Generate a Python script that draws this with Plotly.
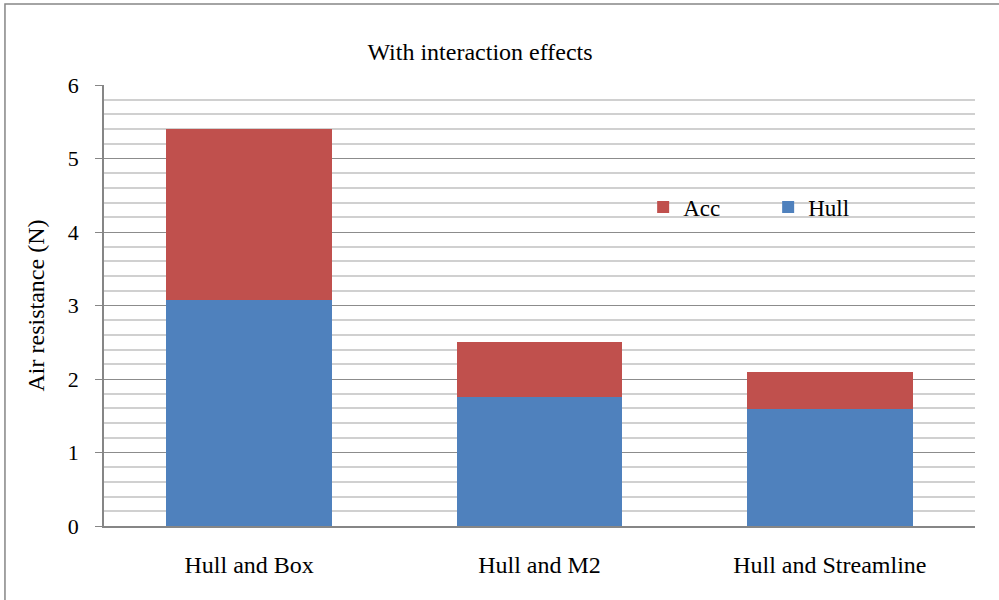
import plotly.graph_objects as go

categories = ["Hull and Box", "Hull and M2", "Hull and Streamline"]
hull = [3.07, 1.76, 1.59]
acc = [2.33, 0.74, 0.51]

serif = "Liberation Serif, Times New Roman, serif"

fig = go.Figure()

fig.add_trace(go.Bar(
    x=categories, y=hull, name="Hull",
    marker=dict(color="#4f81bd", line=dict(width=0)),
))
fig.add_trace(go.Bar(
    x=categories, y=acc, name="Acc",
    marker=dict(color="#c0504d", line=dict(width=0)),
))

# outer chart frame (only left and top edges visible in the crop)
fig.add_shape(type="rect", xref="paper", yref="paper",
              x0=-0.1137, x1=1.2, y0=-0.3, y1=1.1837,
              line=dict(color="#868686", width=1.5), layer="below")

fig.update_layout(
    width=999, height=600,
    barmode="stack",
    bargap=0.43,
    plot_bgcolor="white",
    paper_bgcolor="white",
    margin=dict(l=104, r=24, t=85, b=74),
    font=dict(family=serif, size=22, color="black"),
    title=dict(text="With interaction effects", x=480 / 999, xanchor="center",
               y=1 - 52 / 600, yanchor="middle",
               font=dict(family=serif, size=24, color="black")),
    legend=dict(orientation="h", traceorder="reversed",
                x=0.619, xanchor="left", y=0.723, yanchor="middle",
                entrywidth=80, entrywidthmode="pixels",
                font=dict(family=serif, size=23, color="black"),
                bgcolor="rgba(0,0,0,0)"),
    xaxis=dict(showline=True, linecolor="#868686", linewidth=1.5,
               ticks="", tickfont=dict(family=serif, size=24),
               ticklabelstandoff=16),
    yaxis=dict(range=[0, 6], dtick=1, showline=True, linecolor="#868686",
               linewidth=1.5, ticks="outside", ticklen=7, tickcolor="#868686",
               showgrid=True, gridcolor="#8c8c8c", gridwidth=1,
               zeroline=False, ticklabelstandoff=12,
               minor=dict(dtick=0.2, showgrid=True, gridcolor="#d0d0d0",
                          gridwidth=1.5, ticks=""),
               tickfont=dict(family=serif, size=22),
               title=dict(text="Air resistance (N)", standoff=16,
                          font=dict(family=serif, size=24))),
    showlegend=True,
)

fig.write_html("out.html", config={"displayModeBar": False},
               post_script="document.body.style.margin='0';")
